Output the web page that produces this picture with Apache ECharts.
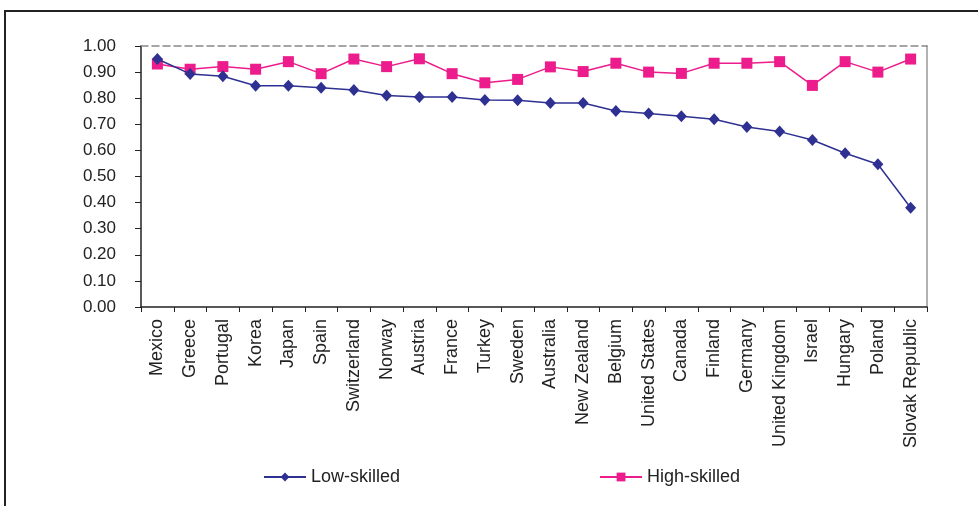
<!DOCTYPE html>
<html>
<head>
<meta charset="utf-8">
<script src="https://cdn.jsdelivr.net/npm/echarts@6/dist/echarts.min.js"></script>
<style>
  html, body { margin: 0; padding: 0; background: #fff; }
  #chart { width: 978px; height: 506px; }
</style>
</head>
<body>
<div id="chart"></div>
<script>
// Countries along the x axis
const countries = ['Mexico', 'Greece', 'Portugal', 'Korea', 'Japan', 'Spain', 'Switzerland', 'Norway',
  'Austria', 'France', 'Turkey', 'Sweden', 'Australia', 'New Zealand', 'Belgium', 'United States',
  'Canada', 'Finland', 'Germany', 'United Kingdom', 'Israel', 'Hungary', 'Poland', 'Slovak Republic'];

// Ratios per country
const lowSkilled = [0.95, 0.893, 0.884, 0.848, 0.848, 0.840, 0.831, 0.810, 0.805, 0.805, 0.793, 0.792,
  0.782, 0.782, 0.751, 0.741, 0.731, 0.719, 0.690, 0.672, 0.640, 0.589, 0.547, 0.380];
const highSkilled = [0.931, 0.911, 0.921, 0.911, 0.940, 0.894, 0.950, 0.921, 0.951, 0.894, 0.859, 0.872,
  0.920, 0.902, 0.934, 0.900, 0.895, 0.934, 0.934, 0.940, 0.849, 0.940, 0.900, 0.950];

// Y axis range and step
const yMin = 0, yMax = 1, yStep = 0.1;

const FONT = 'Liberation Sans, Arial, sans-serif';
const chart = echarts.init(document.getElementById('chart'), null, { renderer: 'canvas' });

chart.setOption({
  animation: false,
  backgroundColor: '#fff',
  graphic: [{
    type: 'rect',
    shape: { x: 5, y: 11, width: 1100, height: 700 },
    style: { fill: 'none', stroke: '#222', lineWidth: 2 },
    silent: true
  }],
  grid: { left: 141, right: 51, top: 46, bottom: 199 },
  legend: {
    data: ['Low-skilled', 'High-skilled'],
    left: 258,
    top: 463,
    itemWidth: 42,
    itemHeight: 11,
    itemGap: 199,
    textStyle: { fontFamily: FONT, fontSize: 18, color: '#222' }
  },
  xAxis: [{
    type: 'category',
    data: countries,
    boundaryGap: true,
    position: 'bottom',
    axisLine: { onZero: false, lineStyle: { color: '#222', width: 1.5 } },
    axisTick: { show: true, length: 5, alignWithLabel: false, lineStyle: { color: '#222' } },
    axisLabel: { rotate: 90, interval: 0, margin: 12, fontFamily: FONT, fontSize: 18, color: '#222' },
    splitLine: { show: false }
  }, {
    // dashed frame along the top of the plot
    type: 'category',
    data: countries,
    position: 'top',
    axisLine: { onZero: false, lineStyle: { color: '#888', width: 1.5, type: [7, 4] } },
    axisTick: { show: false },
    axisLabel: { show: false }
  }],
  yAxis: [{
    type: 'value',
    min: yMin,
    max: yMax,
    interval: yStep,
    axisLine: { show: true, onZero: false, lineStyle: { color: '#222', width: 1.5 } },
    axisTick: { show: true, length: 6, inside: false, lineStyle: { color: '#222' } },
    axisLabel: {
      margin: 25,
      fontFamily: FONT, fontSize: 17, color: '#222',
      formatter: v => v.toFixed(2)
    },
    splitLine: { show: false }
  }, {
    // plain frame on the right side
    type: 'value',
    min: yMin,
    max: yMax,
    interval: yStep,
    position: 'right',
    axisLine: { show: true, onZero: false, lineStyle: { color: '#999', width: 1.5 } },
    axisTick: { show: false },
    axisLabel: { show: false },
    splitLine: { show: false }
  }],
  series: [{
    name: 'High-skilled',
    type: 'line',
    data: highSkilled,
    symbol: 'rect',
    symbolSize: 11,
    z: 2,
    itemStyle: { color: '#EC1C8C' },
    lineStyle: { color: '#EC1C8C', width: 1.5 }
  }, {
    name: 'Low-skilled',
    type: 'line',
    data: lowSkilled,
    symbol: 'diamond',
    symbolSize: [11, 12],
    z: 3,
    itemStyle: { color: '#2E3192' },
    lineStyle: { color: '#2E3192', width: 1.5 }
  }]
});
</script>
</body>
</html>
